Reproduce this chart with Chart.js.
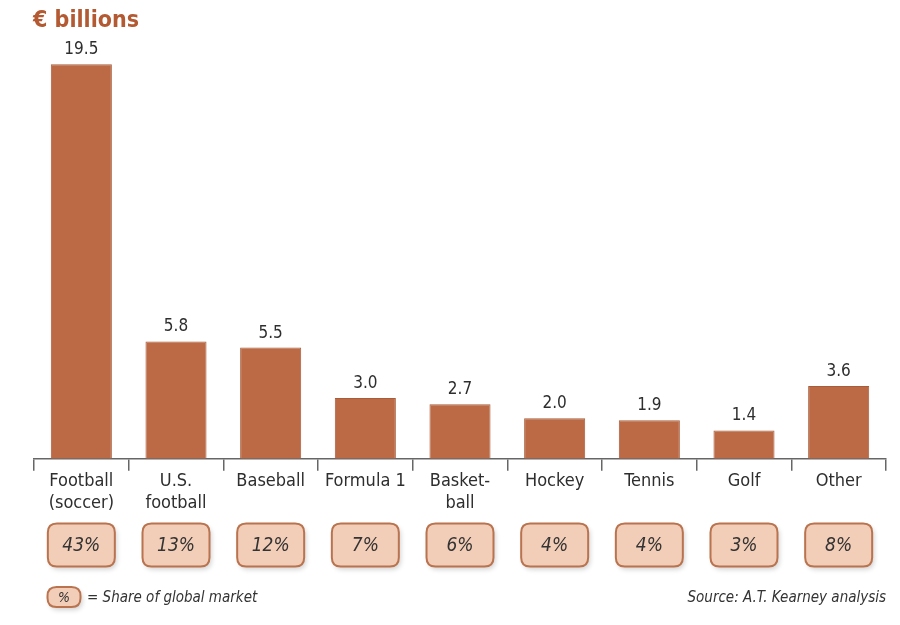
<!DOCTYPE html>
<html><head><meta charset="utf-8">
<script src="https://cdn.jsdelivr.net/npm/chart.js@4"></script>
<style>html,body{margin:0;padding:0;background:#fff}#wrap{width:900px;height:625px;position:relative}</style>
</head><body><div id="wrap"><canvas id="c" width="900" height="625"></canvas></div>
<script>
const categories = [["Football","(soccer)"],["U.S.","football"],["Baseball"],["Formula 1"],["Basket-","ball"],["Hockey"],["Tennis"],["Golf"],["Other"]];
const revenue = [19.5, 5.8, 5.5, 3.0, 2.7, 2.0, 1.9, 1.4, 3.6];
const share = ["43%","13%","12%","7%","6%","4%","4%","3%","8%"];
const titleText = "€ billions";
const legendText = "= Share of global market";
const sourceText = "Source: A.T. Kearney analysis";

const FONT = "'Liberation Sans Narrow','DejaVu Sans Condensed','Liberation Sans',sans-serif";
const BAR = "#bb6a45";
const BROWN = "#b35a33";

function roundRect(ctx, x, y, w, h, r) {
  ctx.beginPath();
  ctx.moveTo(x + r, y);
  ctx.lineTo(x + w - r, y); ctx.quadraticCurveTo(x + w, y, x + w, y + r);
  ctx.lineTo(x + w, y + h - r); ctx.quadraticCurveTo(x + w, y + h, x + w - r, y + h);
  ctx.lineTo(x + r, y + h); ctx.quadraticCurveTo(x, y + h, x, y + h - r);
  ctx.lineTo(x, y + r); ctx.quadraticCurveTo(x, y, x + r, y);
  ctx.closePath();
}
function pctBox(ctx, cx, cy, w, h, txt, fs) {
  ctx.save();
  ctx.shadowColor = "rgba(0,0,0,0.18)"; ctx.shadowBlur = 5; ctx.shadowOffsetX = 2; ctx.shadowOffsetY = 3;
  roundRect(ctx, cx - w / 2, cy - h / 2, w, h, 9);
  ctx.fillStyle = "#f2cdb7"; ctx.fill();
  ctx.shadowColor = "transparent";
  ctx.lineWidth = 2; ctx.strokeStyle = "#b9734e"; ctx.stroke();
  ctx.fillStyle = "#333"; ctx.font = "italic " + fs + "px " + FONT;
  ctx.textAlign = "center"; ctx.textBaseline = "middle";
  ctx.fillText(txt, cx, cy + 1);
  ctx.restore();
}

const extras = {
  id: "extras",
  afterDatasetsDraw(chart) {
    const ctx = chart.ctx, x = chart.scales.x, y = chart.scales.y;
    ctx.save();
    // value labels
    ctx.fillStyle = "#2e2e2e"; ctx.font = "17px " + FONT;
    ctx.textAlign = "center"; ctx.textBaseline = "alphabetic";
    revenue.forEach((v, i) => {
      ctx.fillText(v.toFixed(1), x.getPixelForValue(i), y.getPixelForValue(v) - 10);
    });
    // title
    ctx.fillStyle = BROWN; ctx.font = "bold 23px " + FONT;
    ctx.textAlign = "left"; ctx.textBaseline = "middle";
    ctx.fillText(titleText, 33, 21);
    // share boxes
    share.forEach((s, i) => pctBox(ctx, x.getPixelForValue(i), 545, 67, 43, s, 19));
    // legend
    pctBox(ctx, 64, 597, 33, 20, "%", 14);
    ctx.fillStyle = "#333"; ctx.font = "italic 15px " + FONT;
    ctx.textAlign = "left"; ctx.textBaseline = "middle";
    ctx.fillText(legendText, 87, 598);
    ctx.textAlign = "right";
    ctx.fillText(sourceText, 886, 598);
    ctx.restore();
  }
};

new Chart(document.getElementById("c"), {
  type: "bar",
  data: {
    labels: categories,
    datasets: [{ data: revenue, backgroundColor: BAR, borderColor: "#a95c3a", borderWidth: 1, categoryPercentage: 1, barPercentage: 0.645 }]
  },
  options: {
    responsive: false, animation: false, devicePixelRatio: 1,
    layout: { padding: { left: 34, right: 14, top: 40, bottom: 111 } },
    plugins: { legend: { display: false }, tooltip: { enabled: false } },
    scales: {
      y: { display: false, min: 0, max: 20.7 },
      x: {
        offset: true,
        grid: { display: true, offset: true, drawOnChartArea: false, drawTicks: true, tickLength: 12, color: "#666", lineWidth: 1.5 },
        border: { display: true, color: "#666", width: 1.5 },
        ticks: { color: "#2e2e2e", font: { family: FONT, size: 18 }, padding: 0, maxRotation: 0, autoSkip: false }
      }
    }
  },
  plugins: [extras]
});
</script></body></html>
